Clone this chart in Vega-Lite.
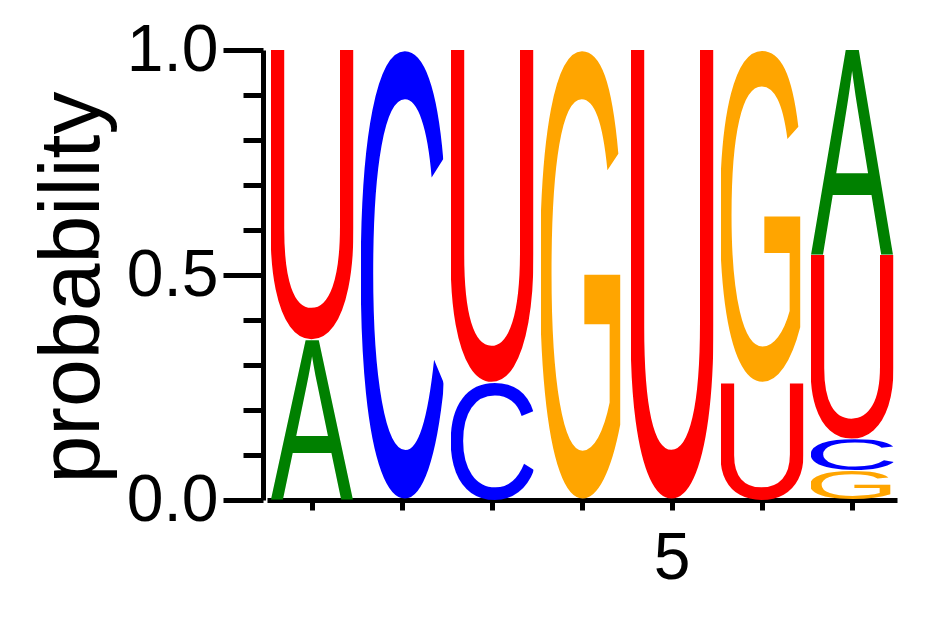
{
  "$schema": "https://vega.github.io/schema/vega-lite/v6.json",
  "width": 630,
  "height": 450,
  "autosize": "none",
  "padding": {"left": 267, "top": 50, "right": 45, "bottom": 117},
  "background": "white",
  "data": {
    "values": [
      {"pos": 1, "base": "U", "p": 0.645},
      {"pos": 1, "base": "A", "p": 0.355},
      {"pos": 2, "base": "C", "p": 1.0},
      {"pos": 3, "base": "U", "p": 0.74},
      {"pos": 3, "base": "C", "p": 0.26},
      {"pos": 4, "base": "G", "p": 1.0},
      {"pos": 5, "base": "U", "p": 1.0},
      {"pos": 6, "base": "G", "p": 0.74},
      {"pos": 6, "base": "U", "p": 0.26},
      {"pos": 7, "base": "A", "p": 0.455},
      {"pos": 7, "base": "U", "p": 0.41},
      {"pos": 7, "base": "C", "p": 0.07},
      {"pos": 7, "base": "G", "p": 0.065}
    ]
  },
  "transform": [
    {"stack": "p", "groupby": ["pos"], "sort": [{"field": "p", "order": "ascending"}], "as": ["y0", "y1"]},
    {"calculate": "\"data:image/svg+xml;utf8,<svg xmlns='http://www.w3.org/2000/svg' preserveAspectRatio='none' viewBox='\" + (datum.base == \"A\" ? \"-3 -1409 1372 1409\" : datum.base == \"C\" ? \"102 -1434 1288 1459\" : datum.base == \"G\" ? \"115 -1434 1378 1459\" : \"158 -1409 1161 1434\") + \"'><text font-family='Liberation Sans' font-size='2048' fill='\" + (datum.base == \"A\" ? \"green\" : datum.base == \"C\" ? \"blue\" : datum.base == \"G\" ? \"orange\" : \"red\") + \"'>\" + datum.base + \"</text></svg>\"", "as": "glyph"}
  ],
  "mark": {"type": "image", "aspect": false},
  "encoding": {
    "x": {
      "field": "pos",
      "type": "ordinal",
      "scale": {"paddingInner": 0.08, "paddingOuter": 0.04},
      "axis": {
        "title": null,
        "labelAngle": 0,
        "labelExpr": "datum.value == 5 ? '5' : ''",
        "labelFontSize": 66,
        "labelColor": "black",
        "labelPadding": 16,
        "tickSize": 10,
        "tickWidth": 5,
        "tickColor": "black",
        "domainColor": "black",
        "domainWidth": 5,
        "grid": false
      }
    },
    "y": {
      "field": "y0",
      "type": "quantitative",
      "scale": {"domain": [0, 1], "nice": false},
      "axis": {
        "values": [0, 0.1, 0.2, 0.3, 0.4, 0.5, 0.6, 0.7, 0.8, 0.9, 1],
        "offset": 4,
        "domainColor": "black",
        "domainWidth": 5,
        "tickColor": "black",
        "tickWidth": 5,
        "tickSize": {"condition": {"test": "datum.value == 0 || datum.value == 0.5 || datum.value == 1", "value": 40}, "value": 20},
        "labelExpr": "datum.value == 0 || datum.value == 0.5 || datum.value == 1 ? format(datum.value, '.1f') : ''",
        "labelFontSize": 66,
        "labelColor": "black",
        "labelPadding": 5,
        "labelOverlap": false,
        "labelFlush": false,
        "grid": false,
        "title": "probability",
        "titleFontSize": 86,
        "titleFontWeight": "normal",
        "titleColor": "black",
        "titleBaseline": "alphabetic",
        "titleX": -165,
        "titleY": 237
      }
    },
    "y2": {"field": "y1"},
    "url": {"field": "glyph", "type": "nominal"}
  },
  "config": {"view": {"stroke": null}, "font": "Liberation Sans"}
}
